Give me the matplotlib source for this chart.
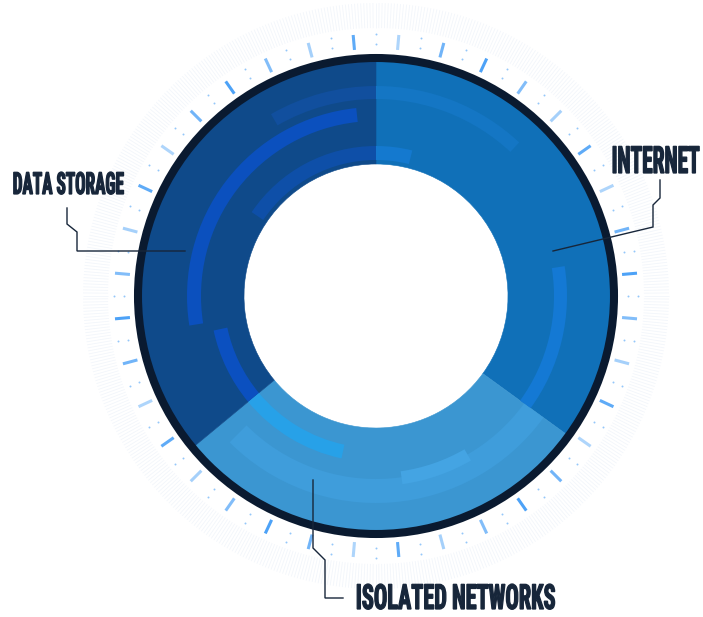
import numpy as np
import matplotlib
matplotlib.use("Agg")
import matplotlib.pyplot as plt
from matplotlib import font_manager, patheffects
from matplotlib.collections import LineCollection
from matplotlib.patches import Circle, Wedge
from matplotlib.transforms import Affine2D

# ── Data ──────────────────────────────────────────────────────────────────────
segments = ["Internet", "Isolated Networks", "Data Storage"]
shares = [35, 29, 36]
labels = ["INTERNET", "ISOLATED NETWORKS", "DATA STORAGE"]

# ── Style ─────────────────────────────────────────────────────────────────────
COLOURS = ["#1070b8", "#3b96d1", "#0f4a8a"]
BORDER = "#0a1a30"
INK = "#17263a"
TICK = "#4da2f7"

W, H = 703, 617
CX, CY = 376, H - 296
R_IN, R_OUT = 132, 238

# decorative bands inside the ring: segment, r_in, r_out, from, to (deg clockwise from 12 o'clock), colour
BANDS = [
    ("Internet", 197, 210, 0, 43, "#1476c4"),
    ("Internet", 136, 150, 0, 14, "#1479cf"),
    ("Internet", 178, 191, 81, 140, "#1479d4"),
    ("Isolated Networks", 183, 207, 120, 225, "#3f9ddb"),
    ("Isolated Networks", 177, 190, 150, 172, "#44a4e3"),
    ("Isolated Networks", 152, 166, 192, 240, "#27a1e8"),
    ("Data Storage", 152, 166, 220, 258, "#0b50c0"),
    ("Data Storage", 175, 189, 261, 354, "#0b50be"),
    ("Data Storage", 136, 150, 304, 360, "#0e4fa8"),
    ("Data Storage", 197, 210, 330, 360, "#114f9e"),
]

# label text box (left, right, baseline) in pixels and leader line points
LABEL_BOX = {
    "Internet": (612, 700, 173),
    "Isolated Networks": (355, 555, 609),
    "Data Storage": (12, 123, 194),
}
LABEL_SIZE = {"Internet": 27, "Isolated Networks": 25, "Data Storage": 22}
LEADERS = {
    "Internet": [(660, 180), (660, 198), (653, 205), (653, 227), (553, 251)],
    "Isolated Networks": [(313, 480), (313, 548), (325, 560), (325, 598), (343, 598)],
    "Data Storage": [(67, 208), (67, 224), (77, 232), (77, 251), (185, 251)],
}


def polar(r, a):
    t = np.radians(90 - a)
    return CX + r * np.cos(t), CY + r * np.sin(t)


class Squeeze(patheffects.AbstractPathEffect):
    """Narrow the glyphs horizontally (keeping one edge in place) and thicken them."""

    def __init__(self, sx, anchor="left", stroke=0.9):
        super().__init__()
        self.sx, self.anchor, self.stroke = sx, anchor, stroke

    def draw_path(self, renderer, gc, tpath, affine, rgbFace=None):
        ext = tpath.get_extents(affine)
        x0 = ext.x0 if self.anchor == "left" else ext.x1
        tr = affine + Affine2D().translate(-x0, 0).scale(self.sx, 1).translate(x0, 0)
        gc0 = renderer.new_gc()
        gc0.copy_properties(gc)
        gc0.set_linewidth(self.stroke)
        gc0.set_foreground(rgbFace)
        gc0.set_joinstyle("miter")
        renderer.draw_path(gc0, tpath, tr, rgbFace)
        gc0.restore()


installed = {f.name for f in font_manager.fontManager.ttflist}
FONT = next(f for f in ["Roboto Condensed", "Open Sans Condensed", "Liberation Sans Narrow",
                        "DejaVu Sans"] if f in installed)

fig = plt.figure(figsize=(W / 100, H / 100), dpi=100)
ax = fig.add_axes([0, 0, 1, 1])
fig.patch.set_facecolor("white")

# faint textured halo
ang = np.arange(0, 360, 0.6)
segs = [[polar(268, a), polar(293, a)] for a in ang]
ax.add_collection(LineCollection(segs, colors="#dbe5f3", linewidths=0.6, alpha=0.35, zorder=1))

# ticks and dots round the ring
alphas = [0.45, 0.8, 1.0, 0.7, 0.5, 0.9]
for k in range(36):
    a = 5 + 10 * k
    (x0, y0), (x1, y1) = polar(247, a), polar(262, a)
    ax.plot([x0, x1], [y0, y1], color=TICK, lw=2.2, alpha=alphas[k % 6],
            solid_capstyle="butt", zorder=2)
    for r in (252, 262):
        x, y = polar(r, 10 * k)
        ax.plot(x, y, "o", color=TICK, ms=1.4, mew=0, alpha=0.6, zorder=2)

# donut
wedges, _ = ax.pie(shares, colors=COLOURS, startangle=90, counterclock=False,
                   center=(CX, CY), radius=R_OUT, wedgeprops=dict(width=R_OUT - R_IN, lw=0))
for w in wedges:
    w.set_edgecolor(w.get_facecolor())
    w.set_linewidth(0.4)
    w.set_zorder(3)

bounds = np.concatenate([[0], np.cumsum(shares)]) / sum(shares) * 360
seg_range = {s: (bounds[i], bounds[i + 1]) for i, s in enumerate(segments)}
for seg, r0, r1, a0, a1, col in BANDS:
    lo, hi = seg_range[seg]
    a0, a1 = max(a0, lo), min(a1, hi)
    if a1 <= a0:
        continue
    ax.add_patch(Wedge((CX, CY), r1, 90 - a1, 90 - a0, width=r1 - r0,
                       facecolor=col, edgecolor="none", zorder=4))

ax.add_patch(Circle((CX, CY), R_OUT, fill=False, lw=5.8, edgecolor=BORDER, zorder=5))

# leader lines
for seg, pts in LEADERS.items():
    xs = [p[0] for p in pts]
    ys = [H - p[1] for p in pts]
    ax.plot(xs, ys, color=INK, lw=1.0, zorder=6, solid_joinstyle="miter")

# labels
renderer = fig.canvas.get_renderer()
for seg, lab in zip(segments, labels):
    left, right, base = LABEL_BOX[seg]
    anchor = "right" if seg == "Internet" else "left"
    t = ax.text(right if anchor == "right" else left, H - base, lab,
                ha=anchor, va="baseline", fontsize=LABEL_SIZE[seg],
                family=FONT, fontweight="bold", fontstretch="condensed",
                color=INK, zorder=7)
    bb = t.get_window_extent(renderer)
    t.set_path_effects([Squeeze((right - left) / bb.width, anchor)])

ax.set_xlim(0, W)
ax.set_ylim(0, H)
ax.set_aspect("equal")
ax.axis("off")

fig.savefig("out.png", dpi=100, facecolor="white")
